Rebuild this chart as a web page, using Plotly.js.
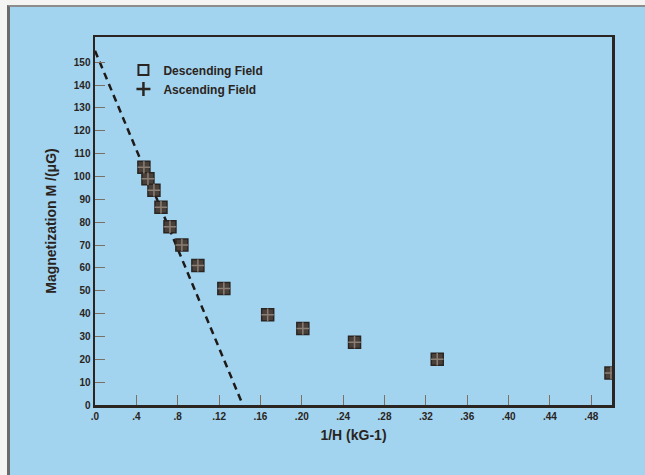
<!DOCTYPE html>
<html>
<head>
<meta charset="utf-8">
<script src="https://cdn.plot.ly/plotly-3.0.1.min.js"></script>
<style>
  html, body { margin: 0; padding: 0; background: #f4f4f2; }
  #wrap { position: absolute; left: 7px; top: 5px; width: 638px; height: 470px;
          border-left: 3px solid #6b6b6b; border-top: 2px solid #8d8d8d; box-sizing: border-box; background: #a2d4f0; }
  #chart { position: absolute; left: -10px; top: -7px; width: 645px; height: 475px; }
</style>
</head>
<body>
<div id="wrap"><div id="chart"></div></div>
<script>
// Data
const invH = [0.0473, 0.0512, 0.0570, 0.0638, 0.0725, 0.0840, 0.0995, 0.1246, 0.1670, 0.2010, 0.2510, 0.3310, 0.4990];
const magDescending = [104, 99, 94, 86.5, 78, 70, 61, 51, 39.5, 33.5, 27.5, 20, 14];
const magAscending  = [104, 99, 94, 86.5, 78, 70, 61, 51, 39.5, 33.5, 27.5, 20, 14];
const fitX = [0, 0.143];
const fitY = [155, 0];
const xTickVals = [0, 0.04, 0.08, 0.12, 0.16, 0.20, 0.24, 0.28, 0.32, 0.36, 0.40, 0.44, 0.48];
const xTickText = ['.0', '.4', '.8', '.12', '.16', '.20', '.24', '.28', '.32', '.36', '.40', '.44', '.48'];
const yTickVals = [0, 10, 20, 30, 40, 50, 60, 70, 80, 90, 100, 110, 120, 130, 140, 150];

const ink = '#2b2522';
const traces = [
  { x: fitX, y: fitY, mode: 'lines', line: { color: '#1e1a18', width: 2.5, dash: '7px,5px' }, showlegend: false, hoverinfo: 'skip' },
  { x: invH, y: magDescending, mode: 'markers', showlegend: false,
    marker: { symbol: 'square', size: 12, color: '#4a403a', line: { color: ink, width: 1.5 } } },
  { x: invH, y: magAscending, mode: 'markers', showlegend: false,
    marker: { symbol: 'cross-thin-open', size: 9, color: '#8a7e74', line: { color: '#8a7e74', width: 1.5 } } },
  { x: [null], y: [null], mode: 'markers', name: 'Descending Field',
    marker: { symbol: 'square-open', size: 10, color: ink, line: { color: ink, width: 2 } } },
  { x: [null], y: [null], mode: 'markers', name: 'Ascending Field',
    marker: { symbol: 'cross-thin-open', size: 10, color: ink, line: { color: ink, width: 2.5 } } }
];

const axisFont = { family: 'Liberation Sans, Arial, sans-serif', size: 10, color: '#2a2420', weight: 'bold' };
const layout = {
  width: 645, height: 475,
  margin: { l: 95, r: 33, t: 37, b: 70 },
  paper_bgcolor: 'rgba(0,0,0,0)',
  plot_bgcolor: '#a2d4f0',
  font: { family: 'Liberation Sans, Arial, sans-serif', color: '#2a2420' },
  xaxis: {
    range: [0, 0.5], tickvals: xTickVals, ticktext: xTickText,
    ticks: 'inside', ticklen: 10, tickwidth: 1, tickcolor: '#7d7062',
    showline: true, linecolor: ink, linewidth: 2.5, mirror: true,
    showgrid: false, zeroline: false, tickfont: axisFont,
    title: { text: '1/H (kG-1)', font: { size: 14, weight: 'bold', color: '#2a2420' }, standoff: 10 }
  },
  yaxis: {
    range: [0, 161], tickvals: yTickVals,
    ticks: 'inside', ticklen: 10, tickwidth: 1, tickcolor: '#7d7062',
    showline: true, linecolor: ink, linewidth: 2.5, mirror: true,
    showgrid: false, zeroline: false, tickfont: axisFont,
    title: { text: 'Magnetization M /(μG)', font: { size: 14, weight: 'bold', color: '#2a2420' }, standoff: 14 }
  },
  legend: {
    x: 0.055, y: 0.95, xanchor: 'left', yanchor: 'top',
    bgcolor: 'rgba(0,0,0,0)', borderwidth: 0,
    font: { size: 12, weight: 'bold', color: '#2a2420' },
    itemwidth: 30, tracegroupgap: 0
  },
  showlegend: true
};

Plotly.newPlot('chart', traces, layout, { displayModeBar: false, staticPlot: true });
</script>
</body>
</html>
